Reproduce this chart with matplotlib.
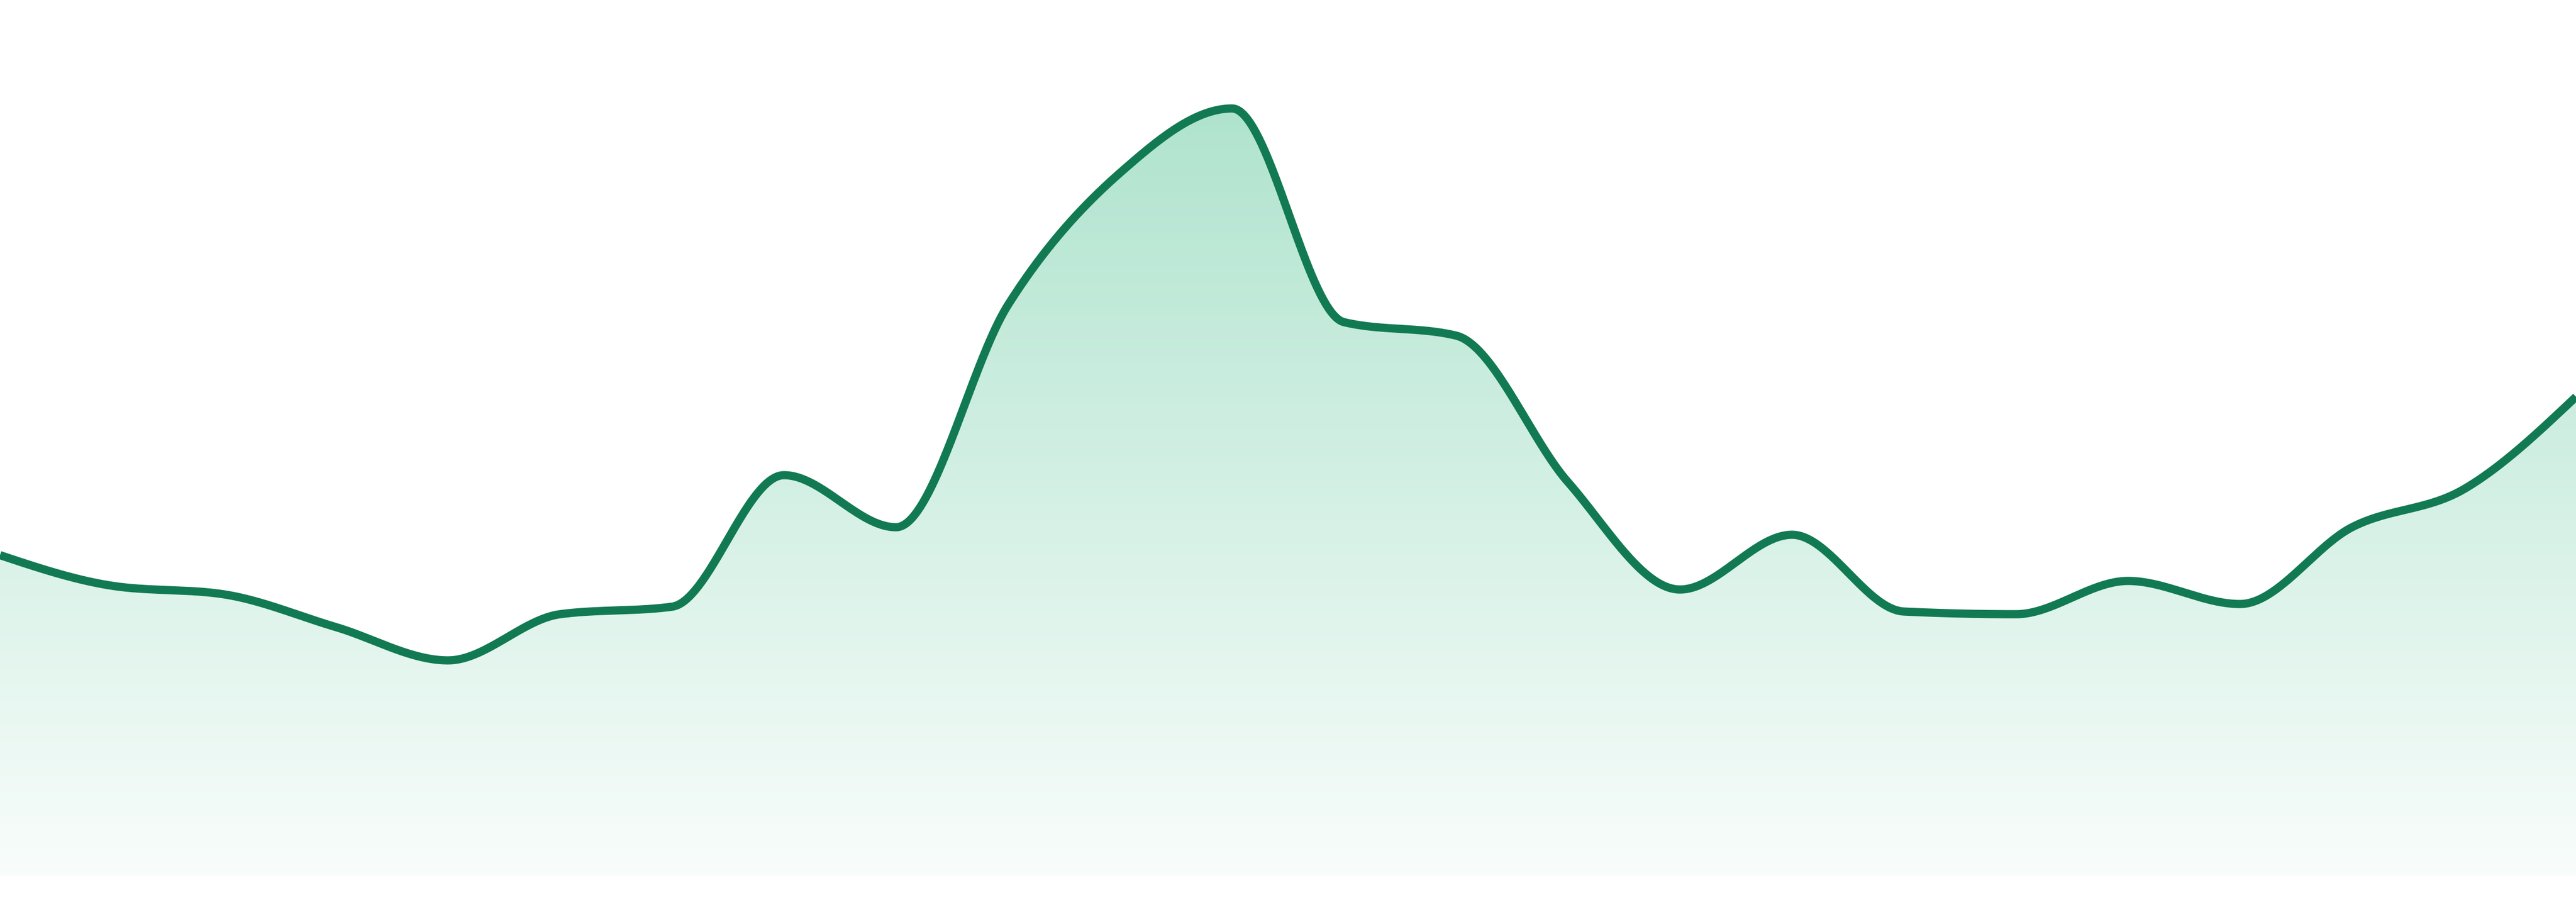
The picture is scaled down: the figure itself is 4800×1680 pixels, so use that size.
import numpy as np
import matplotlib
matplotlib.use('Agg')
import matplotlib.pyplot as plt
from matplotlib.patches import Polygon

# values (24 evenly spaced points)
steps = list(range(24))
values = [59.8, 54.1, 52.5, 46.4, 40.2, 48.8, 50.2, 74.7, 65.0, 106.4, 131.0, 143.0,
          103.2, 100.7, 73.4, 53.4, 63.6, 49.3, 48.8, 55.0, 50.7, 65.0, 72.1, 89.3]

line_color = '#127a52'
fill_rgb = (0.216, 0.733, 0.518)


def monotone_x(x, y, n=80):
    # same tangent rule as d3.curveMonotoneX
    x = np.asarray(x, float)
    y = np.asarray(y, float)
    h = np.diff(x)
    s = np.diff(y) / h
    t = np.zeros_like(y)
    for i in range(1, len(x) - 1):
        p = (s[i - 1] * h[i] + s[i] * h[i - 1]) / (h[i - 1] + h[i])
        t[i] = (np.sign(s[i - 1]) + np.sign(s[i])) * min(abs(s[i - 1]), abs(s[i]), 0.5 * abs(p))
    t[0] = (3 * s[0] - t[1]) / 2
    t[-1] = (3 * s[-1] - t[-2]) / 2

    xs, ys = [], []
    for i in range(len(x) - 1):
        u = np.linspace(0, 1, n, endpoint=False)
        h00 = 2 * u**3 - 3 * u**2 + 1
        h10 = u**3 - 2 * u**2 + u
        h01 = -2 * u**3 + 3 * u**2
        h11 = u**3 - u**2
        xs.append(x[i] + u * h[i])
        ys.append(h00 * y[i] + h10 * h[i] * t[i] + h01 * y[i + 1] + h11 * h[i] * t[i + 1])
    xs.append([x[-1]])
    ys.append([y[-1]])
    return np.concatenate(xs), np.concatenate(ys)


xs, ys = monotone_x(steps, values)

fig = plt.figure(figsize=(48, 16.8), dpi=100)
ax = fig.add_axes([0, 48 / 1680, 1, 1632 / 1680])
ax.set_xlim(steps[0], steps[-1])
ax.set_ylim(0, 163.2)
ax.axis('off')

# vertical gradient under the curve
top = max(values)
grad = np.zeros((256, 1, 4))
grad[:, 0, 0] = fill_rgb[0]
grad[:, 0, 1] = fill_rgb[1]
grad[:, 0, 2] = fill_rgb[2]
grad[:, 0, 3] = np.linspace(0.035, 0.40, 256)
img = ax.imshow(grad, extent=[steps[0], steps[-1], 0, top], origin='lower',
                aspect='auto', interpolation='bilinear', zorder=1)
verts = np.column_stack([np.r_[xs, xs[-1], xs[0]], np.r_[ys, 0, 0]])
clip = Polygon(verts, closed=True, facecolor='none', edgecolor='none')
ax.add_patch(clip)
img.set_clip_path(clip)

ax.plot(xs, ys, color=line_color, linewidth=11, solid_capstyle='butt',
        solid_joinstyle='round', zorder=2)

fig.savefig('out.png', dpi=100, facecolor='white')
